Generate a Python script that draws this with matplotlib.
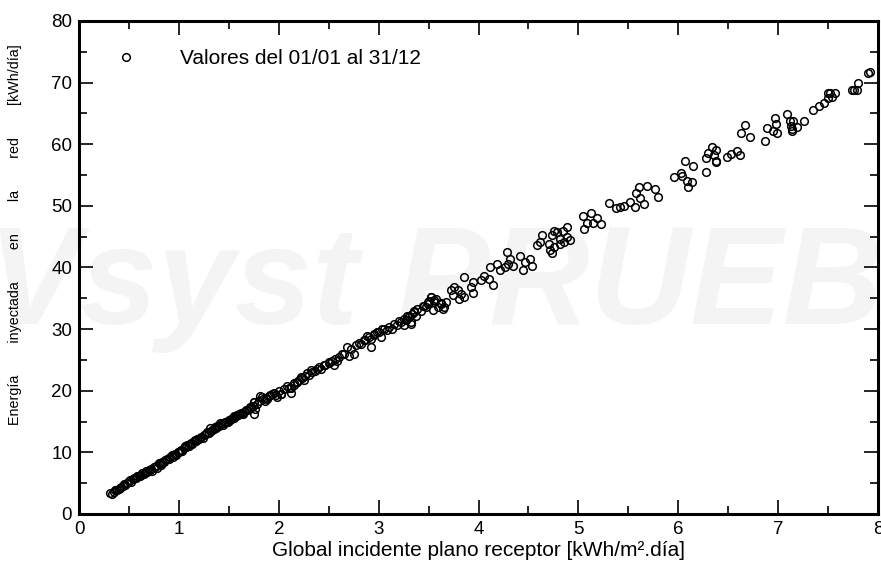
import matplotlib
matplotlib.use("Agg")
import matplotlib.pyplot as plt
from matplotlib.ticker import MultipleLocator

# daily values: global irradiation on plane vs injected energy
irr = [
    # dense low range
    0.31, 0.33, 0.35, 0.36, 0.38, 0.40, 0.41, 0.42, 0.44, 0.45, 0.46, 0.48, 0.50, 0.51, 0.52, 0.54,
    0.55, 0.56, 0.57, 0.58, 0.60, 0.61, 0.62, 0.63, 0.65, 0.66, 0.67, 0.68, 0.70, 0.71, 0.72, 0.73,
    0.75, 0.76, 0.77, 0.78, 0.80, 0.81, 0.82, 0.83, 0.85, 0.86, 0.88, 0.90, 0.91, 0.93, 0.94, 0.96,
    0.97, 0.99, 1.00, 1.01, 1.02, 1.03, 1.05, 1.06, 1.07, 1.08, 1.10, 1.11, 1.12, 1.13, 1.15, 1.16,
    1.17, 1.18, 1.20, 1.21, 1.22, 1.24, 1.25, 1.27, 1.28, 1.30, 1.32, 1.33, 1.35, 1.37, 1.38, 1.40,
    1.42, 1.44, 1.45, 1.47, 1.49, 1.50, 1.52, 1.54, 1.55, 1.57, 1.59, 1.60, 1.62, 1.64, 1.65, 1.67,
    1.70, 1.72, 1.74, 1.75, 1.75, 1.78, 1.80, 1.81, 1.84, 1.86, 1.87, 1.90, 1.91, 1.95, 1.97, 2.00,
    2.02, 2.05, 2.08, 2.10, 2.12,
    # read point by point from 1.3 to 3.4
    1.31, 1.36, 1.41, 1.46, 1.51, 1.55, 1.58, 1.63, 1.68, 1.71, 1.76, 1.75, 1.83, 1.88, 1.93, 1.98,
    2.02, 2.12, 2.15, 2.18, 2.25, 2.22, 2.28, 2.32, 2.38, 2.45, 2.50, 2.55, 2.58, 2.75, 2.70, 2.63,
    2.68, 2.15, 2.18, 2.20, 2.23, 2.26, 2.30, 2.33, 2.36, 2.40, 2.42, 2.46, 2.50, 2.53, 2.56, 2.60,
    2.65, 2.72, 2.77, 2.80, 2.86, 2.90, 2.95, 3.00, 3.05, 3.10, 3.15, 3.20, 3.25, 3.28, 3.33,
    2.92, 2.82, 2.85, 2.88, 2.92, 2.95, 3.02, 2.98, 3.03, 3.08, 3.13, 3.18, 3.22, 3.32, 3.27, 3.30,
    3.35,
    # 3.2 to 4.2
    3.25, 3.32, 3.27, 3.30, 3.37, 3.35, 3.42, 3.47, 3.65, 3.62, 3.49, 3.55, 3.52, 3.45, 3.54, 3.59,
    3.64, 3.67, 3.62, 3.49, 3.55, 3.52, 3.38, 3.44, 3.50, 3.57,
    3.85, 3.74, 3.72, 3.80, 3.82, 3.79, 3.75, 4.15, 3.92, 3.94, 4.02, 4.10, 4.05, 3.85, 3.94,
    4.12, 4.19, 4.35, 4.45, 4.54, 4.52, 4.47, 4.42, 4.22, 4.27, 4.30, 4.32, 4.29,
    # 4.5 to 5.3
    4.86, 4.82, 4.74, 4.72, 4.76, 4.71, 4.59, 4.62, 4.64, 4.74, 4.82, 4.92, 4.89, 4.76, 4.79, 4.85,
    4.89, 5.06, 5.23, 5.19, 5.15, 5.09, 5.13, 5.05,
    # sparse high range
    5.38, 5.57, 5.42, 5.46, 5.31, 5.52, 5.66, 5.62, 5.80, 5.58, 5.77, 5.61, 5.69,
    6.10, 6.14, 6.09, 5.96, 6.04, 6.03, 6.15, 6.07,
    6.28, 6.38, 6.38, 6.28, 6.36, 6.30, 6.38, 6.34,
    6.62, 6.49, 6.53, 6.59, 6.72, 6.63, 6.67,
    6.87, 6.99, 6.95, 6.89, 6.98, 6.97,
    7.26, 7.19, 7.14, 7.14, 7.13, 7.15, 7.12, 7.09,
    7.35, 7.41, 7.46, 7.50, 7.54, 7.50, 7.52, 7.57,
    7.79, 7.74, 7.76, 7.80, 7.90, 7.92,
]
energy = [
    3.35, 3.2, 3.6, 3.9, 3.9, 4.1, 4.3, 4.4, 4.5, 4.8, 4.7, 5.0, 5.3, 5.5, 5.2, 5.6,
    5.9, 5.8, 5.8, 6.2, 6.1, 6.2, 6.4, 6.6, 6.5, 6.6, 6.9, 6.8, 7.1, 7.2, 7.3, 7.0,
    7.6, 7.7, 7.8, 7.5, 8.2, 8.1, 8.0, 8.5, 8.4, 8.7, 9.0, 8.9, 9.2, 9.5, 9.2, 9.8,
    9.6, 10.1, 10.0, 10.3, 10.4, 10.2, 10.7, 11.0, 10.9, 11.2, 11.0, 11.4, 11.5, 11.3, 11.8, 12.0,
    11.9, 12.2, 12.1, 12.4, 12.5, 12.3, 12.8, 13.0, 13.3, 13.2, 13.5, 13.6, 13.8, 14.0, 14.3, 14.2,
    14.6, 14.5, 14.8, 15.0, 14.9, 15.3, 15.4, 15.6, 15.9, 15.9, 16.1, 16.3, 16.4, 16.3, 16.6, 16.8,
    17.1, 17.3, 17.6, 18.2, 16.3, 17.9, 18.3, 19.1, 18.6, 18.3, 18.9, 19.1, 19.3, 19.6, 19.3, 20.0,
    19.4, 20.3, 20.7, 20.5, 19.6,
    13.9, 14.1, 14.7, 15.0, 15.2, 15.5, 16.0, 16.3, 16.8, 17.4, 17.1, 18.2, 19.0, 18.7, 19.4, 19.0,
    19.5, 20.4, 20.9, 21.5, 21.7, 22.3, 22.8, 23.3, 23.6, 24.1, 24.6, 24.1, 24.9, 26.0, 25.7, 26.0,
    27.1, 21.2, 21.4, 21.8, 22.0, 22.4, 22.6, 23.0, 23.2, 23.8, 23.5, 24.2, 24.5, 24.8, 25.2, 25.5,
    26.0, 26.8, 27.4, 27.8, 28.3, 28.8, 29.0, 29.5, 30.0, 30.4, 30.8, 31.3, 31.7, 32.2, 32.5,
    27.1, 27.6, 28.2, 28.9, 28.4, 29.2, 28.7, 29.5, 30.0, 29.8, 30.0, 30.6, 31.1, 30.9, 31.4, 32.2,
    32.8,
    30.6, 31.1, 31.4, 32.0, 32.2, 33.0, 33.0, 33.6, 33.6, 34.2, 34.4, 34.4, 35.2, 33.8, 33.1, 33.6,
    33.3, 34.4, 34.1, 34.1, 34.7, 35.2, 33.3, 33.8, 34.5, 34.9,
    35.2, 35.5, 36.3, 34.9, 35.7, 36.3, 36.8, 37.2, 36.8, 37.6, 37.9, 38.2, 38.7, 38.4, 35.9,
    40.0, 40.6, 40.3, 39.6, 40.3, 41.3, 40.9, 41.8, 39.6, 40.0, 40.6, 41.4, 42.5,
    44.1, 43.8, 42.3, 42.8, 43.3, 43.8, 43.6, 44.1, 45.2, 45.2, 44.6, 44.4, 44.9, 46.0, 45.7, 46.0,
    46.5, 46.3, 47.1, 48.0, 47.3, 47.3, 48.8, 48.4,
    49.7, 49.8, 49.8, 49.9, 50.4, 50.6, 50.3, 51.3, 51.4, 52.1, 52.8, 53.1, 53.3,
    53.0, 53.8, 54.1, 54.7, 54.9, 55.3, 56.5, 57.2,
    55.5, 57.1, 57.3, 57.7, 58.3, 58.6, 59.1, 59.6,
    58.3, 58.0, 58.4, 58.9, 61.2, 61.8, 63.2,
    60.5, 61.8, 62.1, 62.6, 63.3, 64.3,
    63.7, 62.8, 62.2, 62.5, 63.0, 63.7, 63.8, 64.9,
    65.6, 66.2, 66.7, 67.5, 67.6, 68.3, 68.3, 68.3,
    68.8, 68.8, 68.8, 70.0, 71.5, 71.8,
]
legend_label = "Valores del 01/01 al 31/12"

plt.rcParams["font.family"] = ["Liberation Sans", "DejaVu Sans"]
fig = plt.figure(figsize=(8.81, 5.72), dpi=100)

# PVsyst watermark behind everything
fig.text(0.498, 0.496, "PVsyst PRUEBA", fontsize=100, fontweight="bold", style="italic",
         color="#f4f4f4", ha="center", va="center", zorder=-5)

ax = fig.add_axes([0.0897, 0.1014, 0.9069, 0.8619])
ax.patch.set_alpha(0)
ax.plot(irr, energy, "o", ls="none", mfc="none", mec="black", ms=5.5, mew=1.1,
        label=legend_label)

ax.set_xlim(0, 8)
ax.set_ylim(0, 80)
ax.xaxis.set_major_locator(MultipleLocator(1))
ax.xaxis.set_minor_locator(MultipleLocator(0.5))
ax.yaxis.set_major_locator(MultipleLocator(10))
ax.yaxis.set_minor_locator(MultipleLocator(5))
ax.tick_params(which="both", direction="in", top=True, right=True, width=1.2, labelsize=13.5)
ax.tick_params(which="major", length=10, pad=5)
ax.tick_params(which="minor", length=6)
for s in ax.spines.values():
    s.set_linewidth(2.2)

ax.set_xlabel("Global incidente plano receptor [kWh/m\u00b2.d\u00eda]", fontsize=15, labelpad=2)
gap = " " * 8
ax.set_ylabel(gap.join(["Energ\u00eda", "inyectada", "en", "la", "red", "[kWh/d\u00eda]"]),
              fontsize=10.3)
ax.yaxis.set_label_coords(-0.071, 0.566)

ax.legend(loc="center left", bbox_to_anchor=(0.0225, 0.923), frameon=False, fontsize=15,
          handletextpad=1.6, borderaxespad=0.0, markerscale=1.0)

fig.savefig("out.png", dpi=100)
